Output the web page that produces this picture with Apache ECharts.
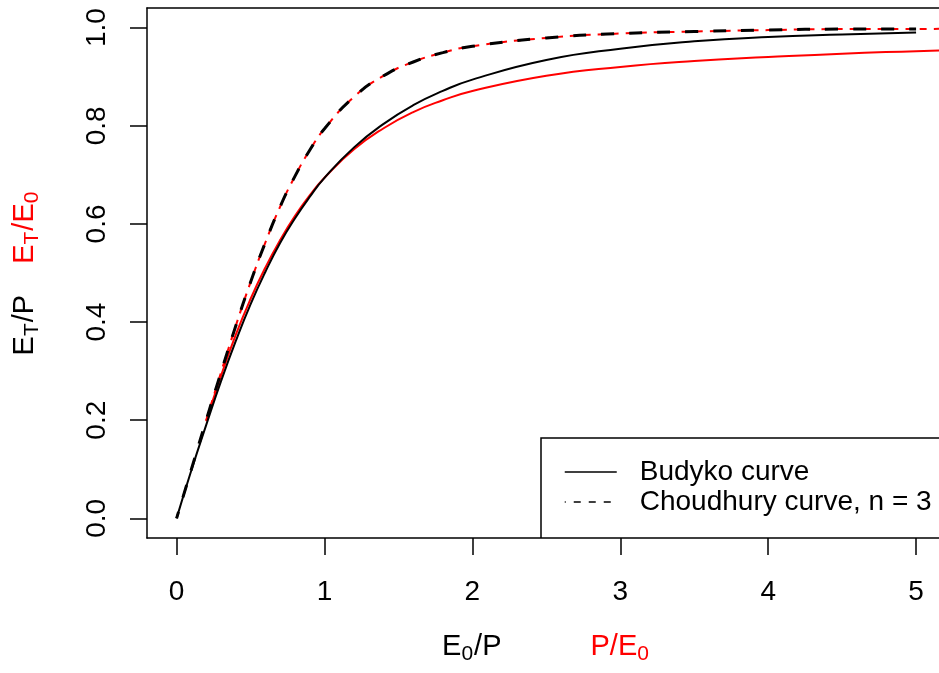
<!DOCTYPE html>
<html>
<head>
<meta charset="utf-8">
<script src="https://cdn.jsdelivr.net/npm/echarts@6/dist/echarts.min.js"></script>
<style>
    html, body { margin: 0; padding: 0; background: #fff; }
    #chart { width: 939px; height: 673px; }
</style>
</head>
<body>
<div id="chart"></div>
<script>
// E0/P on the x axis (black curves)
let xBlack = [0, 0.1, 0.2, 0.3, 0.4, 0.5, 0.6, 0.7, 0.8, 0.9, 1.0, 1.2, 1.4, 1.6, 1.8, 2.0, 2.5, 3.0, 3.5, 4.0, 4.5, 5.0];
let budykoEP = [0, 0.098, 0.190, 0.279, 0.361, 0.436, 0.502, 0.561, 0.611, 0.655, 0.694, 0.756, 0.804, 0.842, 0.871, 0.894, 0.934, 0.957, 0.972, 0.981, 0.986, 0.990];
let choudhuryEP = [0, 0.100, 0.200, 0.297, 0.392, 0.481, 0.562, 0.635, 0.697, 0.750, 0.794, 0.859, 0.902, 0.930, 0.949, 0.962, 0.979, 0.988, 0.992, 0.995, 0.997, 0.997];

// P/E0 on the x axis (red curves)
let xRed = [0.2, 0.3, 0.4, 0.5, 0.6, 0.7, 0.8, 0.9, 1.0, 1.2, 1.4, 1.6, 1.8, 2.0, 2.5, 3.0, 3.5, 4.0, 4.5, 5.0, 5.2];
let budykoPE = [0.198, 0.290, 0.374, 0.447, 0.511, 0.567, 0.616, 0.658, 0.694, 0.752, 0.795, 0.828, 0.852, 0.871, 0.902, 0.920, 0.932, 0.940, 0.947, 0.952, 0.954];
let choudhuryPE = [0.200, 0.297, 0.392, 0.481, 0.562, 0.635, 0.697, 0.750, 0.794, 0.859, 0.902, 0.930, 0.949, 0.962, 0.979, 0.988, 0.992, 0.995, 0.997, 0.997, 0.998];

let xTicks = [0, 1, 2, 3, 4, 5];
let xTickLabels = ['0', '1', '2', '3', '4', '5'];
let yTicks = [0, 0.2, 0.4, 0.6, 0.8, 1.0];
let yTickLabels = ['0.0', '0.2', '0.4', '0.6', '0.8', '1.0'];

// the plot region is cut by the right edge of the picture at about x = 5.155
let xMin = -0.2, xMax = 5.155;
let yMin = -0.04, yMax = 1.04;

let font = '"Liberation Sans", Arial, Helvetica, sans-serif';

function pairs(xs, ys) {
    let out = [];
    for (let i = 0; i < xs.length; i++) {
        out.push([xs[i], ys[i]]);
    }
    return out;
}

let richTitle = {
    k: { fontSize: 29, fontFamily: font, color: '#000', lineHeight: 29, verticalAlign: 'top' },
    ks: { fontSize: 21, fontFamily: font, color: '#000', padding: [12, 1, 0, 0], verticalAlign: 'top' },
    r: { fontSize: 29, fontFamily: font, color: '#ff0000', lineHeight: 29, verticalAlign: 'top' },
    rs: { fontSize: 21, fontFamily: font, color: '#ff0000', padding: [12, 1, 0, 0], verticalAlign: 'top' },
    gx: { width: 89, fontSize: 27 },
    gy: { width: 31, fontSize: 27 }
};

let frame = { color: '#000', width: 1.5 };

let chart = echarts.init(document.getElementById('chart'), null, { renderer: 'canvas' });
let option = {
    animation: false,
    backgroundColor: '#fff',
    grid: [
        // plot box
        { left: 147, top: 8, right: 0, bottom: 135, show: false },
        // strip under the box that holds the x ticks
        { left: 147, top: 538, right: 0, height: 17, show: false },
        // strip left of the box that holds the y ticks
        { left: 130, top: 8, width: 17, bottom: 135, show: false }
    ],
    // legend frame: its right side lies outside the picture, like the original
    graphic: [
        {
            type: 'polyline',
            x: 541,
            y: 438,
            z: 5,
            shape: { points: [[420, 0], [0, 0], [0, 100]] },
            style: { fill: null, stroke: '#000', lineWidth: 1.5 }
        }
    ],
    legend: {
        data: [
            { name: 'Budyko curve', lineStyle: { width: 1.5, type: 'solid', color: '#000' } },
            { name: 'Choudhury curve, n = 3', lineStyle: { width: 1.5, type: [7, 8], color: '#000' } }
        ],
        orient: 'vertical',
        left: 541,
        top: 438,
        z: 6,
        padding: [20, 0, 22, 23],
        itemWidth: 52,
        itemHeight: 2,
        itemGap: 2,
        selectedMode: false,
        itemStyle: { opacity: 0 },
        textStyle: {
            fontSize: 28,
            fontFamily: font,
            color: '#000',
            lineHeight: 28,
            padding: [0, 0, 0, 18]
        }
    },
    xAxis: [
        {
            type: 'value',
            gridIndex: 0,
            position: 'bottom',
            min: xMin,
            max: xMax,
            axisLine: { show: true, onZero: false, lineStyle: frame },
            splitLine: { show: false },
            axisTick: { show: false },
            axisLabel: {
                customValues: xTicks,
                margin: 40,
                fontSize: 28,
                fontFamily: font,
                color: '#000',
                formatter: function (val) {
                    let i = xTicks.indexOf(val);
                    return i >= 0 ? xTickLabels[i] : '';
                }
            },
            name: '{k|E}{ks|0}{k|/P}{gx| }{r|P/E}{rs|0}',
            nameLocation: 'middle',
            nameGap: 94,
            nameTextStyle: { rich: richTitle, padding: [0, 0, 0, 6] }
        },
        {
            // top side of the box
            type: 'value',
            gridIndex: 0,
            position: 'top',
            min: xMin,
            max: xMax,
            axisLine: { show: true, onZero: false, lineStyle: frame },
            axisTick: { show: false },
            axisLabel: { show: false },
            splitLine: { show: false }
        },
        {
            // x ticks, hanging down from the box
            type: 'value',
            gridIndex: 1,
            position: 'top',
            min: xMin,
            max: xMax,
            axisLine: { show: false, onZero: false },
            axisTick: {
                show: true,
                inside: true,
                length: 17,
                customValues: xTicks,
                lineStyle: frame
            },
            axisLabel: { show: false },
            splitLine: { show: false }
        },
        {
            type: 'value',
            gridIndex: 2,
            min: 0,
            max: 1,
            show: false
        }
    ],
    yAxis: [
        {
            type: 'value',
            gridIndex: 0,
            position: 'left',
            min: yMin,
            max: yMax,
            axisLine: { show: true, onZero: false, lineStyle: frame },
            splitLine: { show: false },
            axisTick: { show: false },
            axisLabel: {
                customValues: yTicks,
                rotate: 90,
                margin: 36,
                fontSize: 28,
                fontFamily: font,
                color: '#000',
                formatter: function (val) {
                    for (let i = 0; i < yTicks.length; i++) {
                        if (Math.abs(yTicks[i] - val) < 1e-9) {
                            return yTickLabels[i];
                        }
                    }
                    return '';
                }
            },
            name: '{k|E}{ks|T}{k|/P}{gy| }{r|E}{rs|T}{r|/E}{rs|0}',
            nameLocation: 'middle',
            nameRotate: 90,
            nameGap: 104,
            nameTextStyle: { rich: richTitle }
        },
        {
            type: 'value',
            gridIndex: 1,
            min: 0,
            max: 1,
            show: false
        },
        {
            // y ticks, sticking out left of the box
            type: 'value',
            gridIndex: 2,
            position: 'right',
            min: yMin,
            max: yMax,
            axisLine: { show: false, onZero: false },
            axisTick: {
                show: true,
                inside: true,
                length: 17,
                customValues: yTicks,
                lineStyle: frame
            },
            axisLabel: { show: false },
            splitLine: { show: false }
        }
    ],
    series: [
        {
            name: 'Budyko (P/E0)',
            type: 'line',
            data: pairs(xRed, budykoPE),
            symbol: 'none',
            smooth: true,
            itemStyle: { color: '#ff0000' },
            lineStyle: { color: '#ff0000', width: 2 }
        },
        {
            name: 'Choudhury (P/E0)',
            type: 'line',
            data: pairs(xRed, choudhuryPE),
            symbol: 'none',
            smooth: true,
            itemStyle: { color: '#ff0000' },
            lineStyle: { color: '#ff0000', width: 2, type: [7, 7] }
        },
        {
            name: 'Budyko curve',
            type: 'line',
            data: pairs(xBlack, budykoEP),
            symbol: 'none',
            smooth: true,
            itemStyle: { color: '#000' },
            lineStyle: { color: '#000', width: 2 }
        },
        {
            name: 'Choudhury curve, n = 3',
            type: 'line',
            data: pairs(xBlack, choudhuryEP),
            symbol: 'none',
            smooth: true,
            itemStyle: { color: '#000' },
            lineStyle: { color: '#000', width: 3, type: [13, 15], dashOffset: 6 }
        }
    ]
};
chart.setOption(option);
</script>
</body>
</html>
